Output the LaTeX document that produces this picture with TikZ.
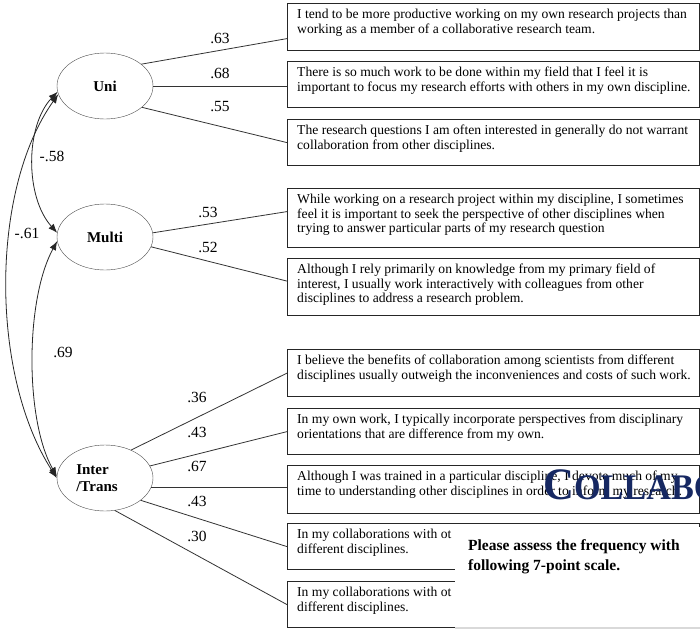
\documentclass[tikz,border=0pt]{standalone}
\usepackage{fontspec}
\setmainfont{Liberation Serif}
\usepackage{graphicx}
\usetikzlibrary{arrows.meta,shapes.geometric}
\definecolor{navy}{RGB}{22,40,98}

\begin{document}
\begin{tikzpicture}[x=1pt,y=-1pt,
		factor/.style={draw=black!70,ellipse,minimum width=96pt,minimum height=66pt,inner sep=0pt,align=left,font=\fontsize{15}{17}\selectfont\bfseries},
		itembox/.style={draw=black!85,line width=1.2pt,anchor=north west,minimum width=412pt,inner sep=0pt},
		itemtext/.style={anchor=north west,align=left,inner sep=0pt,font=\fontsize{13.6}{14.6}\selectfont},
		load/.style={draw=black!80,line width=0.8pt},
		coef/.style={inner sep=0pt,font=\fontsize{15.5}{16}\selectfont},
		cov/.style={draw=black!85,line width=0.8pt,{Latex[length=9pt,width=7pt]}-{Latex[length=9pt,width=7pt]}},
		ask/.style={anchor=base west,inner sep=0pt,font=\fontsize{15.5}{17}\selectfont\bfseries}]
		\fill [white] (0,0) rectangle (700,629);
		\useasboundingbox (0,0) rectangle (700,629);
		\clip (0,0) rectangle (700,629);
		\node [factor] (uni) at (105,86) {Uni};
		\node [factor] (multi) at (105,237) {Multi};
		\node [factor] (inter) at (105,478) {Inter\\/Trans\hspace*{16pt}};
		\node [itembox,minimum height=47pt] (b1) at (287,3) {};
		\node [itemtext] (t1) at ([shift={(10,6)}]b1.north west) {I tend to be more productive working on my own research projects than\\working as a member of a collaborative research team.};
		\node [itembox,minimum height=46pt] (b2) at (287,61) {};
		\node [itemtext] (t2) at ([shift={(10,6)}]b2.north west) {There is so much work to be done within my field that I feel it is\\important to focus my research efforts with others in my own discipline.};
		\node [itembox,minimum height=46pt] (b3) at (287,119) {};
		\node [itemtext] (t3) at ([shift={(10,6)}]b3.north west) {The research questions I am often interested in generally do not warrant\\collaboration from other disciplines.};
		\node [itembox,minimum height=59pt] (b4) at (287,188) {};
		\node [itemtext] (t4) at ([shift={(10,6)}]b4.north west) {While working on a research project within my discipline, I sometimes\\feel it is important to seek the perspective of other disciplines when\\trying to answer particular parts of my research question};
		\node [itembox,minimum height=57pt] (b5) at (287,258) {};
		\node [itemtext] (t5) at ([shift={(10,6)}]b5.north west) {Although I rely primarily on knowledge from my primary field of\\interest, I usually work interactively with colleagues from other\\disciplines to address a research problem.};
		\node [itembox,minimum height=47pt] (b6) at (287,349) {};
		\node [itemtext] (t6) at ([shift={(10,6)}]b6.north west) {I believe the benefits of collaboration among scientists from different\\disciplines usually outweigh the inconveniences and costs of such work.};
		\node [itembox,minimum height=46pt] (b7) at (287,408) {};
		\node [itemtext] (t7) at ([shift={(10,6)}]b7.north west) {In my own work, I typically incorporate perspectives from disciplinary\\orientations that are difference from my own.};
		\node [itembox,minimum height=48pt] (b8) at (287,465) {};
		\node [itemtext] (t8) at ([shift={(10,6)}]b8.north west) {Although I was trained in a particular discipline, I devote much of my\\time to understanding other disciplines in order to inform my research.};
		\node [itembox,minimum height=46pt] (b9) at (287,523) {};
		\node [itemtext] (t9) at ([shift={(10,6)}]b9.north west) {In my collaborations with ot\\different disciplines.};
		\node [itembox,minimum height=46pt] (b10) at (287,581) {};
		\node [itemtext] (t10) at ([shift={(10,6)}]b10.north west) {In my collaborations with ot\\different disciplines.};
		\draw [load] (uni.31) -- ([shift={(0,11.5)}]b1.west);
		\draw [load] (uni.east) -- (uni.east -| b2.west);
		\draw [load] (uni.-30) -- (b3.west);
		\draw [load] (multi.5) -- ([shift={(0,-6.5)}]b4.west);
		\draw [load] (multi.-12) -- ([shift={(0,-6)}]b5.west);
		\draw [load] (inter.47) -- (b6.west);
		\draw [load] (inter.15) -- (b7.west);
		\draw [load] (inter.-12) -- (inter.-12 -| b8.west);
		\draw [load] (inter.-32) -- (b9.west);
		\draw [load] (inter.-73) -- (b10.west);
		\node [coef] (l63) at (220,38) {.63};
		\node [coef] (l68) at (220,73) {.68};
		\node [coef] (l55) at (220,107) {.55};
		\node [coef] (l53) at (208,212) {.53};
		\node [coef] (l52) at (208,247) {.52};
		\node [coef] (l36) at (197,397) {.36};
		\node [coef] (l43a) at (197,432) {.43};
		\node [coef] (l67) at (197,466) {.67};
		\node [coef] (l43b) at (197,501) {.43};
		\node [coef] (l30) at (197,536) {.30};
		\draw [cov] (uni.187) .. controls (25,126) and (25,197) .. (multi.175);
		\draw [cov] (uni.190) .. controls (-10,190) and (-10,375) .. (inter.180);
		\draw [cov] (multi.185) .. controls (25,300) and (25,420) .. (inter.178);
		\node [coef] (um) at (52,156) {-.58};
		\node [coef] (ui) at (27,233) {-.61};
		\node [coef] (mi) at (63,352) {.69};
		\node [anchor=base west,inner sep=0pt,text=navy] (banner) at (543,499) {\scalebox{0.95}[1]{\fontsize{45}{45}\selectfont\bfseries C\fontsize{36}{36}\selectfont OLLABO}};
		\fill [white] (455,527) rectangle (700,629);
		\draw [black!15,line width=1.5pt] (455,628) -- (700,628);
		\node [ask] (ask1) at (468,550) {Please assess the frequency with};
		\node [ask] (ask2) at (468,570) {following 7-point scale.};
	\end{tikzpicture}
\end{document}
